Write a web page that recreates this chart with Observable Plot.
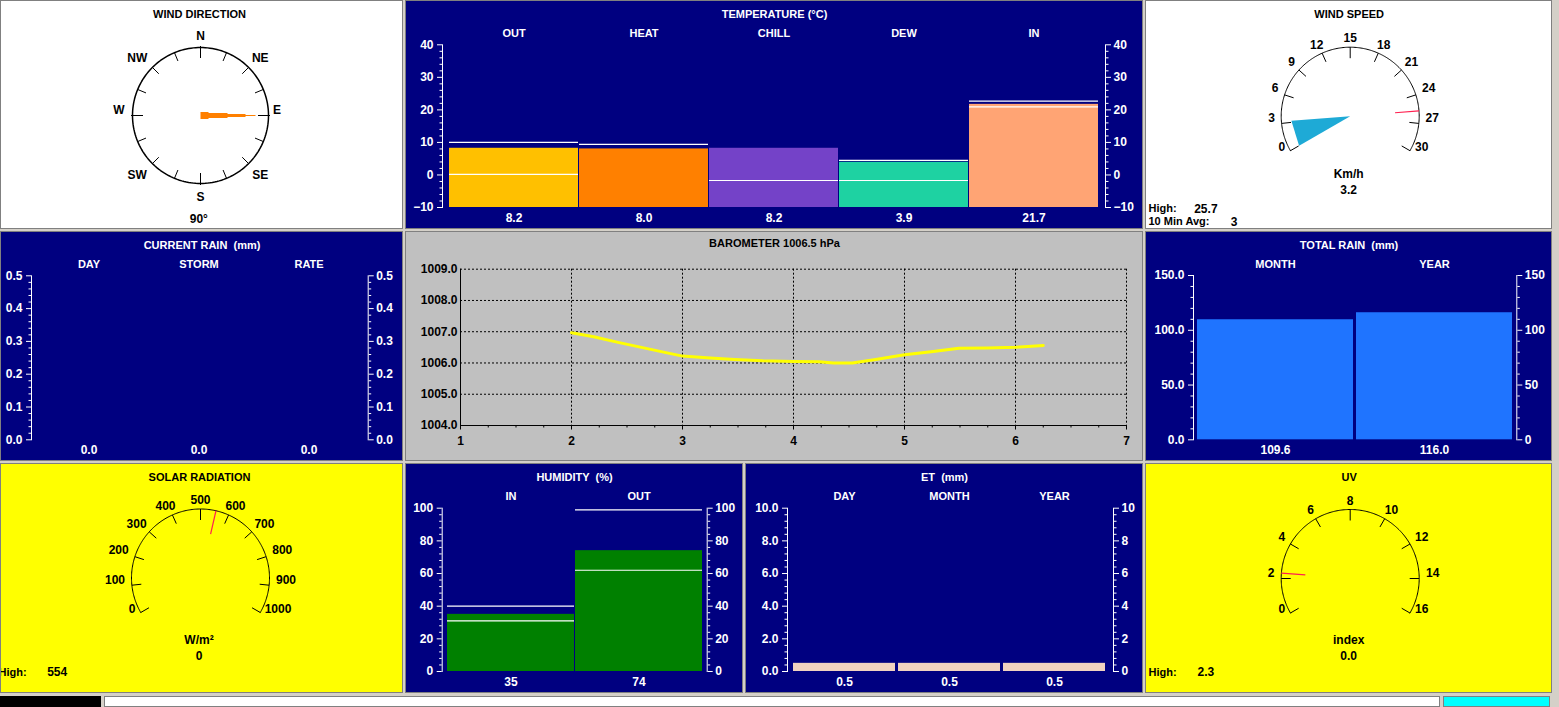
<!DOCTYPE html>
<html><head><meta charset="utf-8">
<script src="https://cdn.jsdelivr.net/npm/d3@7"></script>
<script src="https://cdn.jsdelivr.net/npm/@observablehq/plot@0.6"></script>
<style>
html,body{margin:0;padding:0;background:#d4d0c8;overflow:hidden;}
#dash{position:relative;width:1559px;height:707px;background:#d4d0c8;}
.panel{position:absolute;box-sizing:border-box;border:1px solid #808080;overflow:hidden;}
.panel svg{position:absolute;left:-1px;top:-1px;}
.strip{position:absolute;box-sizing:border-box;}
</style></head><body><div id="dash"></div><script>
// ---------------- DATA ----------------
const windDir = 90;
const compassLabels = ["N","NE","E","SE","S","SW","W","NW"];

const tempCats = ["OUT","HEAT","CHILL","DEW","IN"];
const tempValues = [8.2, 8.0, 8.2, 3.9, 21.7];
const tempHigh = [10.0, 9.4, null, 4.5, 22.7];
const tempLow = [0.2, null, -1.7, -1.7, 20.9];
const tempColors = ["#ffc000","#ff8000","#7442c8","#1ed2a2","#ffa474"];
const tempTicks = [40,30,20,10,0,-10];

const windSpeed = 3.2, windHigh = 25.7, windAvg = 3;
const windTicks = [0,3,6,9,12,15,18,21,24,27,30];

const curRainCats = ["DAY","STORM","RATE"];
const curRainValues = [0.0, 0.0, 0.0];
const curRainTicks = [0.5,0.4,0.3,0.2,0.1,0.0];

const baroCurrent = 1006.5;
const baroHours = [2.0,2.2,2.42,2.63,2.84,3.0,3.25,3.47,3.72,4.0,4.23,4.36,4.53,4.74,5.0,5.24,5.49,5.75,6.0,6.25];
const baroValues = [1006.97,1006.84,1006.66,1006.5,1006.34,1006.22,1006.16,1006.11,1006.07,1006.05,1006.04,1006.0,1006.0,1006.11,1006.26,1006.36,1006.47,1006.48,1006.5,1006.56];
const baroXTicks = [1,2,3,4,5,6,7];
const baroYTicks = [1004,1005,1006,1007,1008,1009];

const totRainCats = ["MONTH","YEAR"];
const totRainValues = [109.6, 116.0];
const totRainTicks = [150,100,50,0];

const solar = 0, solarHigh = 554;
const solarTicks = [0,100,200,300,400,500,600,700,800,900,1000];

const humCats = ["IN","OUT"];
const humValues = [35, 74];
const humHigh = [40, 99];
const humLow = [31, 62];
const humTicks = [100,80,60,40,20,0];

const etCats = ["DAY","MONTH","YEAR"];
const etValues = [0.5, 0.5, 0.5];
const etTicks = [10,8,6,4,2,0];

const uv = 0.0, uvHigh = 2.3;
const uvTicks = [0,2,4,6,8,10,12,14,16];

// ---------------- HELPERS ----------------
const FONT = "'Liberation Sans', Arial, Helvetica, sans-serif";
const dash = document.getElementById("dash");
const rad = Math.PI / 180;

function panel(x0, y0, w, h, bg) {
  const d = document.createElement("div");
  d.className = "panel";
  d.style.left = x0 + "px"; d.style.top = y0 + "px";
  d.style.width = w + "px"; d.style.height = h + "px";
  d.style.background = bg;
  dash.appendChild(d);
  return d;
}
function svgStyle(bg, color) {
  return `max-width:none;overflow:visible;background:${bg};color:${color};font-family:${FONT};font-weight:bold;font-size:12px;`;
}
function minorTicks(majors, n = 5) {
  const s = [...majors].sort((a, b) => a - b);
  const out = [];
  for (let i = 0; i < s.length - 1; i++) {
    const st = (s[i + 1] - s[i]) / n;
    for (let k = 1; k < n; k++) out.push(s[i] + k * st);
  }
  return out;
}
function ctext(t, x, y, opts = {}) {
  return Plot.text([t], Object.assign({frameAnchor: "top-left", dx: x, dy: y, textAnchor: "middle", lineAnchor: "middle", fontSize: 12}, opts));
}

// ---------------- BAR PANELS ----------------
function barPanel(o) {
  const div = panel(o.x0, o.y0, o.w, o.h, "#000080");
  const n = o.cats.length;
  const step = (o.barR - o.barL + o.gap) / n;
  const pad = o.gap / step;
  const data = o.cats.map((c, i) => ({cat: c, v: o.values[i]}));
  const base = o.yDomain[0];
  const minors = minorTicks(o.ticks);
  const marks = [];
  marks.push(Plot.barY(data, {x: "cat", y1: () => base, y2: "v", fill: o.colors ? "cat" : o.barColor}));
  if (o.high) marks.push(Plot.tickY(o.cats.map((c, i) => ({cat: c, v: o.high[i]})).filter(d => d.v != null), {x: "cat", y: "v", stroke: "white", strokeWidth: 1.2}));
  if (o.low) marks.push(Plot.tickY(o.cats.map((c, i) => ({cat: c, v: o.low[i]})).filter(d => d.v != null), {x: "cat", y: "v", stroke: "white", strokeWidth: 1.2}));
  marks.push(
    Plot.axisY(o.ticks, {anchor: "left", tickSize: 5, tickPadding: 4, tickFormat: o.fmtL, fontSize: 12, label: null}),
    Plot.axisY(minors, {anchor: "left", tickSize: 2.5, tickFormat: () => "", label: null}),
    Plot.axisY(o.ticks, {anchor: "right", tickSize: 5, tickPadding: 3, tickFormat: o.fmtR, fontSize: 12, label: null}),
    Plot.axisY(minors, {anchor: "right", tickSize: 2.5, tickFormat: () => "", label: null}),
    Plot.frame({anchor: "left"}),
    Plot.frame({anchor: "right"}),
    Plot.text([o.title], {frameAnchor: "top", dx: o.w / 2 - (o.mL + o.w - o.mR) / 2, dy: o.titleY - o.mT, fontSize: 11, lineAnchor: "middle", textAnchor: "middle"}),
    Plot.text(o.cats, {x: d => d, frameAnchor: "top", dy: o.catY - o.mT, fontSize: 11, lineAnchor: "middle", textAnchor: "middle"}),
    Plot.text(data, {x: "cat", text: d => d3.format(o.fmtV)(d.v), frameAnchor: "bottom", dy: o.valY - (o.h - o.mB), fontSize: 12, lineAnchor: "middle", textAnchor: "middle"})
  );
  const svg = Plot.plot({
    width: o.w, height: o.h,
    marginLeft: o.mL, marginRight: o.mR, marginTop: o.mT, marginBottom: o.mB,
    x: {type: "band", domain: o.cats, range: [o.barL, o.barR], paddingInner: pad, paddingOuter: 0, axis: null},
    y: {domain: o.yDomain, axis: null},
    color: o.colors ? {domain: o.cats, range: o.colors} : undefined,
    style: svgStyle("#000080", "white"),
    marks
  });
  div.appendChild(svg);
}

// ---------------- GAUGES ----------------
function gaugePanel(o) {
  const div = panel(o.x0, o.y0, o.w, o.h, o.bg);
  const R = 69;
  const min = o.ticks[0], max = o.ticks[o.ticks.length - 1];
  const mid = (min + max) / 2;
  const ang = v => (210 - 240 * (v - min) / (max - min)) * rad;
  const px = (v, r) => r * Math.cos(ang(v));
  const py = (v, r) => r * Math.sin(ang(v));
  const arc = d3.range(0, 241).map(t => min + (max - min) * t / 240);
  const wedge = [{v: min, r: 0}, {v: min, r: 59}, {v: o.value, r: 59}, {v: o.value, r: 0}];
  const marks = [
    Plot.line(wedge, {x: d => px(d.v, d.r), y: d => py(d.v, d.r), fill: "#1eaad6", stroke: "none"}),
    Plot.line(arc, {x: v => px(v, R), y: v => py(v, R), stroke: "black", strokeWidth: 1}),
    Plot.link(o.ticks, {x1: v => px(v, R), y1: v => py(v, R), x2: v => px(v, R - (v === mid ? 11 : 9.5)), y2: v => py(v, R - (v === mid ? 11 : 9.5)), stroke: "black"}),
    Plot.text(o.ticks, {x: v => Math.cos(ang(v)) * (79 + 3.5 * (String(v).length - 1)), y: v => 72.3 * Math.sin(ang(v)) + 5.4, text: v => String(v), fontSize: 12, fill: "black"}),
    Plot.link([o.high], {x1: v => px(v, 45), y1: v => py(v, 45), x2: v => px(v, R), y2: v => py(v, R), stroke: "#ff2050", strokeWidth: 1.2}),
    ctext(o.title, o.cx - 1, o.titleY, {fontSize: 11}),
    ctext(o.unit, o.cx - 1.5, o.unitY),
    ctext(o.valueText, o.cx - 1.5, o.unitY + 15.7)
  ];
  o.extra.forEach(e => {
    marks.push(ctext(e.label, e.x, e.y, {textAnchor: "start", fontSize: 11}));
    marks.push(ctext(e.value, e.vx, e.y, {textAnchor: "start", fontSize: 12}));
  });
  const svg = Plot.plot({
    width: o.w, height: o.h, margin: 0,
    x: {domain: [-o.cx, o.w - o.cx], range: [0, o.w], axis: null},
    y: {domain: [o.cy - o.h, o.cy], range: [o.h, 0], axis: null},
    style: svgStyle(o.bg, "black"),
    marks
  });
  div.appendChild(svg);
}

function compassPanel() {
  const o = {x0: 0, y0: 0, w: 403, h: 229, cx: 200, cy: 115};
  const div = panel(o.x0, o.y0, o.w, o.h, "#ffffff");
  const R = 68;
  const bearings = d3.range(0, 360, 22.5);
  const labels = compassLabels.map((l, i) => ({l, b: i * 45}));
  const B = windDir * rad;
  const dx = Math.sin(B), dy = Math.cos(B), qx = Math.cos(B), qy = -Math.sin(B);
  const profile = [[0,3.5],[8,3.5],[8,2.5],[27,2.5],[27,1.5],[45,1.5],[45,0.5],[55,0.5]];
  const poly = profile.concat(profile.slice().reverse().map(([u, v]) => [u, -v]))
    .map(([u, v]) => ({x: u * dx + v * qx, y: u * dy + v * qy}));
  const svg = Plot.plot({
    width: o.w, height: o.h, margin: 0,
    x: {domain: [-o.cx, o.w - o.cx], range: [0, o.w], axis: null},
    y: {domain: [o.cy - o.h, o.cy], range: [o.h, 0], axis: null},
    style: svgStyle("#ffffff", "black"),
    marks: [
      Plot.line(d3.range(0, 361, 2), {x: a => R * Math.sin(a * rad), y: a => R * Math.cos(a * rad), stroke: "black"}),
      Plot.link(bearings, {
        x1: b => (b % 90 === 0 ? 69.5 : 68) * Math.sin(b * rad), y1: b => (b % 90 === 0 ? 69.5 : 68) * Math.cos(b * rad),
        x2: b => (b % 90 === 0 ? 57.5 : 59) * Math.sin(b * rad), y2: b => (b % 90 === 0 ? 57.5 : 59) * Math.cos(b * rad),
        stroke: "black"}),
      Plot.text(labels, {
        x: d => (d.b % 90 === 0 ? 79 : 87) * Math.sin(d.b * rad) - 2.5 * Math.abs(Math.sin(d.b * rad)),
        y: d => (d.b % 90 === 0 ? 80.5 : 82.5) * Math.cos(d.b * rad) + (d.b % 180 === 90 ? 5 : -1),
        text: "l", fontSize: 12, fill: "black"}),
      Plot.line(poly, {x: "x", y: "y", fill: "#ff8000", stroke: "none"}),
      ctext("WIND DIRECTION", o.cx - 1, 14, {fontSize: 11}),
      ctext(windDir + "°", o.cx - 1.7, 219)
    ]
  });
  div.appendChild(svg);
}

function baroPanel() {
  const o = {x0: 405, y0: 231, w: 738, h: 230, mL: 55, mR: 17, mT: 37.7, mB: 36};
  const div = panel(o.x0, o.y0, o.w, o.h, "#c0c0c0");
  const data = baroHours.map((h, i) => ({h, p: baroValues[i]}));
  const grid = {stroke: "black", strokeOpacity: 1, strokeDasharray: "2,2"};
  const svg = Plot.plot({
    width: o.w, height: o.h, marginLeft: o.mL, marginRight: o.mR, marginTop: o.mT, marginBottom: o.mB,
    x: {domain: [baroXTicks[0], baroXTicks[baroXTicks.length - 1]]},
    y: {domain: [baroYTicks[0], baroYTicks[baroYTicks.length - 1]]},
    style: svgStyle("#c0c0c0", "black"),
    marks: [
      Plot.gridY(baroYTicks.slice(1), grid),
      Plot.gridX(baroXTicks.slice(1), grid),
      Plot.ruleX([baroXTicks[0]], {stroke: "black"}),
      Plot.ruleY([baroYTicks[0]], {stroke: "black"}),
      Plot.axisX(baroXTicks, {tickSize: 4.5, tickPadding: 6, tickFormat: "d", fontSize: 12, label: null}),
      Plot.axisX(minorTicks(baroXTicks, 4), {tickSize: 2.5, tickFormat: () => "", label: null}),
      Plot.axisY(baroYTicks, {tickSize: 0, tickPadding: 3, tickFormat: ".1f", fontSize: 12, label: null}),
      Plot.line(data, {x: "h", y: "p", stroke: "#ffff00", strokeWidth: 3}),
      Plot.text([`BAROMETER ${baroCurrent.toFixed(1)} hPa`], {frameAnchor: "top", dx: o.w / 2 - (o.mL + o.w - o.mR) / 2, dy: 12.3 - o.mT, fontSize: 11, lineAnchor: "middle", textAnchor: "middle"})
    ]
  });
  div.appendChild(svg);
}

// ---------------- BUILD ----------------
compassPanel();

barPanel({x0: 405, y0: 0, w: 738, h: 229, mL: 37, mR: 38, mT: 44.3, mB: 22,
  barL: 41.5, barR: 695, gap: 1, cats: tempCats, values: tempValues, colors: tempColors,
  high: tempHigh, low: tempLow, yDomain: [-10, 40], ticks: tempTicks, fmtL: "d", fmtR: "d", fmtV: ".1f",
  title: "TEMPERATURE (°C)", titleY: 14, catY: 32.7, valY: 218});

gaugePanel({x0: 1145, y0: 0, w: 407, h: 229, cx: 204.7, cy: 115.7, bg: "#ffffff",
  ticks: windTicks, value: windSpeed, high: windHigh, title: "WIND SPEED", titleY: 14,
  unit: "Km/h", unitY: 174, valueText: String(windSpeed),
  extra: [{label: "High:", x: 3, vx: 48.7, y: 208.3, value: String(windHigh)},
          {label: "10 Min Avg:", x: 3, vx: 85.3, y: 221.3, value: String(windAvg)}]});

barPanel({x0: 0, y0: 231, w: 403, h: 230, mL: 31, mR: 35.3, mT: 44.3, mB: 21.7,
  barL: 33.3, barR: 363.3, gap: 1, cats: curRainCats, values: curRainValues, barColor: "#1f74ff",
  yDomain: [0, 0.5], ticks: curRainTicks, fmtL: ".1f", fmtR: ".1f", fmtV: ".1f",
  title: "CURRENT RAIN  (mm)", titleY: 13.7, catY: 32.7, valY: 219});

baroPanel();

barPanel({x0: 1145, y0: 231, w: 407, h: 230, mL: 48, mR: 35.7, mT: 44, mB: 21.7,
  barL: 52, barR: 367, gap: 3, cats: totRainCats, values: totRainValues, barColor: "#1f74ff",
  yDomain: [0, 150], ticks: totRainTicks, fmtL: ".1f", fmtR: "d", fmtV: ".1f",
  title: "TOTAL RAIN  (mm)", titleY: 13.7, catY: 32.7, valY: 219});

gaugePanel({x0: 0, y0: 463, w: 403, h: 230, cx: 200, cy: 114.5, bg: "#ffff00",
  ticks: solarTicks, value: solar, high: solarHigh, title: "SOLAR RADIATION", titleY: 13.7,
  unit: "W/m²", unitY: 177, valueText: String(solar),
  extra: [{label: "High:", x: -2, vx: 46.7, y: 208.7, value: String(solarHigh)}]});

barPanel({x0: 405, y0: 463, w: 338, h: 230, mL: 36.7, mR: 36.3, mT: 44.7, mB: 22,
  barL: 41, barR: 297.7, gap: 1, cats: humCats, values: humValues, barColor: "#008000",
  high: humHigh, low: humLow, yDomain: [0, 100], ticks: humTicks, fmtL: "d", fmtR: "d", fmtV: "d",
  title: "HUMIDITY  (%)", titleY: 13.7, catY: 32.7, valY: 218.7});

barPanel({x0: 745, y0: 463, w: 398, h: 230, mL: 42, mR: 30, mT: 44.7, mB: 22,
  barL: 46.3, barR: 360.7, gap: 3.3, cats: etCats, values: etValues, barColor: "#f0d2c0",
  yDomain: [0, 10], ticks: etTicks, fmtL: ".1f", fmtR: "d", fmtV: ".1f",
  title: "ET  (mm)", titleY: 13.7, catY: 32.7, valY: 218.7});

gaugePanel({x0: 1145, y0: 463, w: 407, h: 230, cx: 204.7, cy: 115, bg: "#ffff00",
  ticks: uvTicks, value: uv, high: uvHigh, title: "UV", titleY: 13.7,
  unit: "index", unitY: 177, valueText: uv.toFixed(1),
  extra: [{label: "High:", x: 3, vx: 52, y: 208.7, value: String(uvHigh)}]});

// bottom status strip
[[0, 696, 101, 11, "#000000", "none"], [104, 696, 1336, 11, "#ffffff", "1px solid #808080"], [1443, 696, 107, 11, "#00ffff", "1px solid #808080"]]
  .forEach(([x, y, w, h, bg, b]) => {
    const d = document.createElement("div");
    d.className = "strip";
    Object.assign(d.style, {left: x + "px", top: y + "px", width: w + "px", height: h + "px", background: bg, border: b});
    dash.appendChild(d);
  });
</script></body></html>
